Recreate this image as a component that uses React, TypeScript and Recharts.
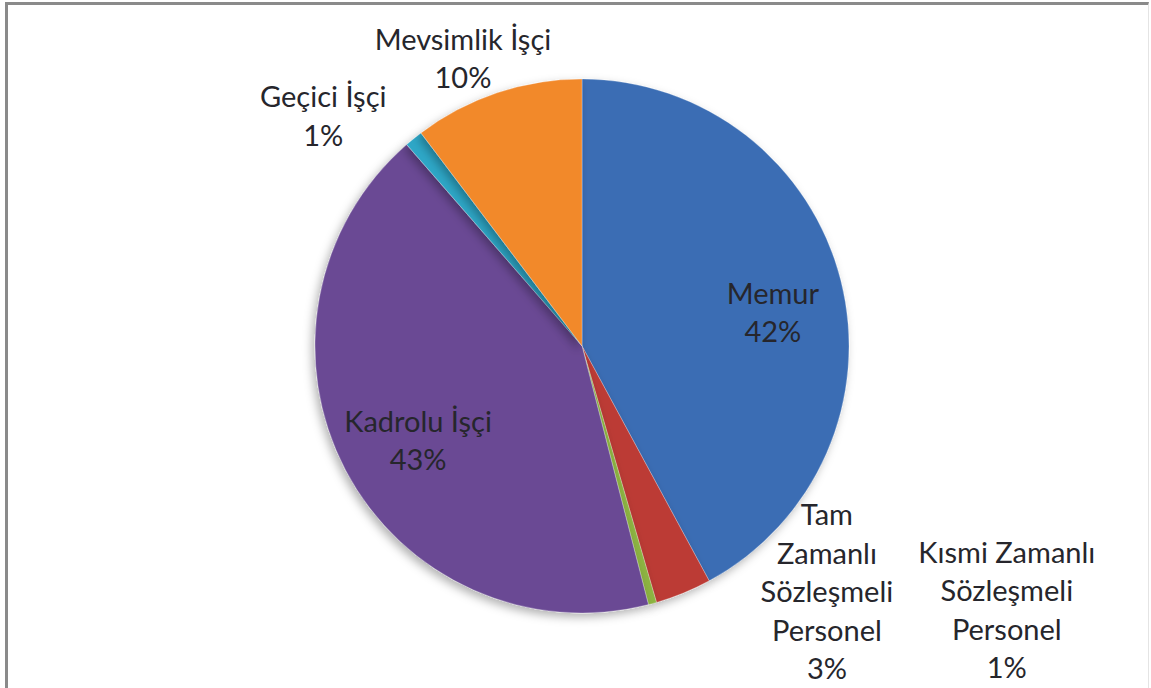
import * as React from "react"
import { PieChart, Pie, Cell } from "recharts"

// ── Data ──────────────────────────────────────────────────────────────
const categories = [
  "Memur",
  "Tam Zamanlı Sözleşmeli Personel",
  "Kısmi Zamanlı Sözleşmeli Personel",
  "Kadrolu İşçi",
  "Geçici İşçi",
  "Mevsimlik İşçi",
]
const shares = [42.1, 3.4, 0.5, 42.6, 1.1, 10.3]
const colors = ["#3A6DB4", "#BC3A34", "#8DB443", "#6A4A94", "#2FA7C7", "#F2892C"]

// label placement: angle (deg, ccw from 3 o'clock), radius factor, wrap width in chars
const labelLayout: Record<string, { angle: number; r: number; wrap: number }> = {
  "Memur": { angle: 10.4, r: 0.727, wrap: 14 },
  "Tam Zamanlı Sözleşmeli Personel": { angle: -44.9, r: 1.295, wrap: 10 },
  "Kısmi Zamanlı Sözleşmeli Personel": { angle: -31.7, r: 1.87, wrap: 13 },
  "Kadrolu İşçi": { angle: 209.6, r: 0.706, wrap: 14 },
  "Geçici İşçi": { angle: 138.2, r: 1.3, wrap: 14 },
  "Mevsimlik İşçi": { angle: 112.4, r: 1.17, wrap: 14 },
}

const W = 1151
const H = 688
const RAD = Math.PI / 180
const FONT = "Lato, 'Open Sans', sans-serif"
const LINE = 38.5

function wrapWords(text: string, max: number) {
  const out: string[] = []
  let cur = ""
  for (const w of text.split(" ")) {
    const next = cur ? cur + " " + w : w
    if (cur && next.length > max) {
      out.push(cur)
      cur = w
    } else cur = next
  }
  if (cur) out.push(cur)
  return out
}

function renderLabel(props: any) {
  const { cx, cy, outerRadius, name, percent } = props
  const lay = labelLayout[name]
  if (!lay) return null
  const x = cx + outerRadius * lay.r * Math.cos(lay.angle * RAD)
  const y = cy - outerRadius * lay.r * Math.sin(lay.angle * RAD)
  const lines = [...wrapWords(name, lay.wrap), `${Math.round(percent * 100)}%`]
  const top = y - ((lines.length - 1) * LINE) / 2
  return (
    <text
      x={x}
      y={top}
      textAnchor="middle"
      dominantBaseline="central"
      fontFamily={FONT}
      fontSize={29}
      fill="#26262c"
    >
      {lines.map((l, i) => (
        <tspan key={i} x={x} y={top + i * LINE}>
          {l}
        </tspan>
      ))}
    </text>
  )
}

// ── Component ─────────────────────────────────────────────────────────
export default function App() {
  const data = categories.map((name, i) => ({ name, value: shares[i] }))

  return (
    <div
      style={{
        position: "fixed",
        left: 0,
        top: 0,
        width: W,
        height: H,
        background: "#fff",
        overflow: "hidden",
      }}
    >
      <div
        style={{
          position: "absolute",
          left: 5,
          top: 2,
          width: 1140,
          height: H,
          borderLeft: "3px solid #8a8a8a",
          borderTop: "3px solid #8a8a8a",
          borderRight: "1px solid #e4e4e4",
        }}
      />
      <PieChart width={W} height={H} style={{ position: "absolute", left: 0, top: 0 }}>
        <defs>
          <filter id="pieShadow" x="-20%" y="-20%" width="140%" height="140%">
            <feDropShadow dx="-3" dy="4" stdDeviation="5" floodColor="#000" floodOpacity="0.3" />
          </filter>
        </defs>
        <Pie
          data={data}
          dataKey="value"
          nameKey="name"
          cx={577}
          cy={341}
          outerRadius={267}
          startAngle={90}
          endAngle={-270}
          stroke="rgba(255,255,255,0.25)"
          strokeWidth={1}
          label={renderLabel}
          labelLine={false}
          isAnimationActive={false}
          style={{ filter: "url(#pieShadow)" }}
        >
          {data.map((_, i) => (
            <Cell key={i} fill={colors[i]} />
          ))}
        </Pie>
      </PieChart>
    </div>
  )
}
